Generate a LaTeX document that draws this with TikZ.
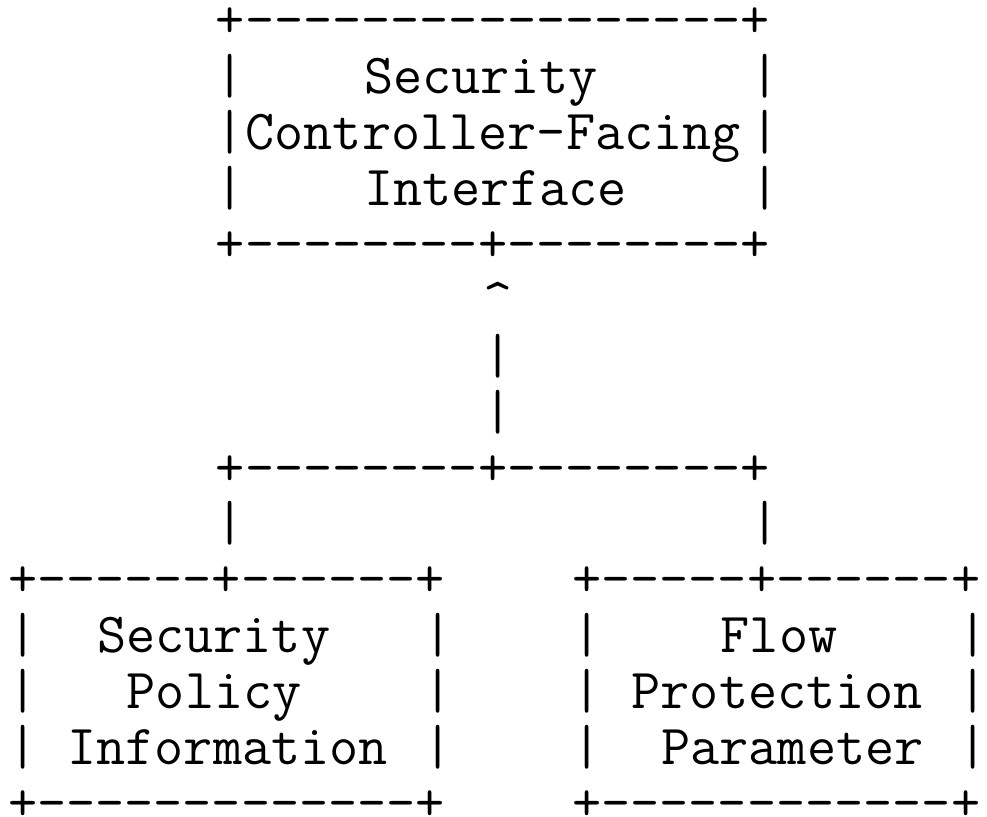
\documentclass[tikz,border=0pt]{standalone}
\usepackage{tikz}

\begin{document}
\begin{tikzpicture}[
  x=6pt,y=-11.29pt,
  font=\ttfamily\fontsize{11.43pt}{11.29pt}\selectfont,
  txt/.style={inner sep=0pt,outer sep=0pt,anchor=base west}
]
  \fill[white] (-1.62pt,7.68pt) rectangle (197.8pt,-157.2pt);
  \useasboundingbox (-1.62pt,7.68pt) rectangle (197.8pt,-157.2pt);

  % Top box — controller-facing interface
  \node[txt] (t0) at (7,0) {+-----------------+};
  \foreach \r in {1,2,3} {
    \node[txt] (tl\r) at (7,\r) {|};
    \node[txt] (tr\r) at (25,\r) {|};
  }
  \node[txt] (t1) at (12,1) {Security};
  \node[txt] (t2) at (8,2) {Controller-Facing};
  \node[txt] (t3) at (12,3) {Interface};
  \node[txt] (t4) at (7,4) {+--------+--------+};

  % Link up and fork
  \node[txt] (up) at (16,5) {\textasciicircum};
  \node[txt] (v1) at (16,6) {|};
  \node[txt] (v2) at (16,7) {|};
  \node[txt] (fork) at (7,8) {+--------+--------+};
  \node[txt] (dl) at (7,9) {|};
  \node[txt] (dr) at (25,9) {|};

  % Left box — policy information
  \node[txt] (p0) at (0,10) {+------+------+};
  \foreach \r in {11,12,13} {
    \node[txt] (pl\r) at (0,\r) {|};
    \node[txt] (pr\r) at (14,\r) {|};
  }
  \node[txt] (p1) at (3,11) {Security};
  \node[txt] (p2) at (4,12) {Policy};
  \node[txt] (p3) at (2,13) {Information};
  \node[txt] (p4) at (0,14) {+-------------+};

  % Right box — flow protection
  \node[txt] (f0) at (19,10) {+-----+------+};
  \foreach \r in {11,12,13} {
    \node[txt] (fl\r) at (19,\r) {|};
    \node[txt] (fr\r) at (32,\r) {|};
  }
  \node[txt] (f1) at (24,11) {Flow};
  \node[txt] (f2) at (21,12) {Protection};
  \node[txt] (f3) at (22,13) {Parameter};
  \node[txt] (f4) at (19,14) {+------------+};
\end{tikzpicture}
\end{document}
